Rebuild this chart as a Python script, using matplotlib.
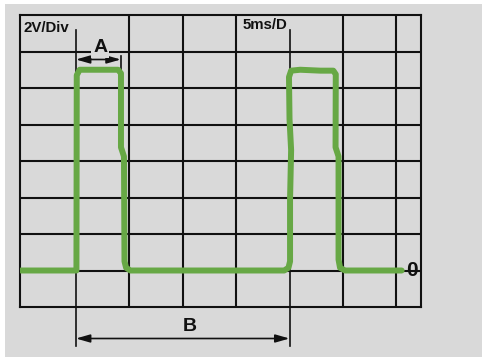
import matplotlib.pyplot as plt
from matplotlib.patches import Rectangle

# scope settings
volts_per_div = 2
ms_per_div = 5

# trace (time in ms, voltage in V)
trace_t = [-0.15, 5.05, 5.08, 5.35, 8.95, 9.22, 9.22, 9.5, 9.55, 9.7, 10.1,
           24.5, 24.9, 25.05, 25.05, 25.15, 25.0, 24.95, 25.15, 26.0, 27.9,
           29.1, 29.33, 29.31, 29.59, 29.59, 29.73, 30.2, 35.5]
trace_v = [0.0, 0.0, 10.7, 11.0, 11.0, 10.8, 6.75, 6.25, 0.5, 0.15, 0.0,
           0.0, 0.15, 0.5, 3.9, 6.6, 8.3, 10.6, 10.95, 11.0, 10.95,
           10.95, 10.75, 6.75, 6.25, 0.6, 0.15, 0.0, 0.0]

# grid lines (in divisions) and measurement markers (ms)
grid_x_divs = [2, 3, 4, 6, 7]
grid_y_volts = [0, 2, 4, 6, 8, 10, 12]
marker_a = (5.0, 9.2)
marker_b = (5.0, 25.0)

gray = '#d9d9d9'
green = '#67a845'
ink = '#111111'

fig = plt.figure(figsize=(4.82, 3.57), dpi=100)
fig.patch.set_facecolor('white')
fig.add_artist(Rectangle((5 / 482, 0), 1, 1 - 4 / 357, transform=fig.transFigure,
                         facecolor=gray, edgecolor='none', zorder=-10))

ax = fig.add_axes([20 / 482, 50 / 357, 401 / 482, 292 / 357])
ax.set_facecolor(gray)
ax.set_xlim(-0.234, 37.31)
ax.set_ylim(-2, 14)
ax.set_xticks([])
ax.set_yticks([])
for s in ax.spines.values():
    s.set_linewidth(1.5)
    s.set_color(ink)

for d in grid_x_divs:
    ax.axvline(d * ms_per_div, color=ink, lw=1.5, zorder=1)
for v in grid_y_volts:
    ax.axhline(v, color=ink, lw=1.5, zorder=1)

# marker lines extending below the screen
for x in marker_b:
    ax.plot([x, x], [13.2, -4.16], color=ink, lw=1.2, clip_on=False, zorder=2)
ax.plot([marker_a[1], marker_a[1]], [11.75, 11.0], color=ink, lw=1.2, zorder=2)

ax.plot(trace_t, trace_v, color=green, lw=4.3, solid_joinstyle='round',
        solid_capstyle='round', zorder=5)

arrow = dict(arrowstyle='<|-|>,head_length=0.7,head_width=0.2', color=ink,
             lw=1.2, shrinkA=0, shrinkB=0, mutation_scale=12)
ya = (271 - 60) / 36.5 * volts_per_div
ax.annotate('', xy=(marker_a[0], ya), xytext=(marker_a[1], ya), arrowprops=arrow,
            zorder=3)
yb = (271 - 339) / 36.5 * volts_per_div
ax.annotate('', xy=(marker_b[0], yb), xytext=(marker_b[1], yb), arrowprops=arrow,
            annotation_clip=False, zorder=3)

font = dict(family=['Liberation Sans', 'DejaVu Sans'], fontweight='bold', color=ink)
ax.text(7.27, (271 - 48) / 36.5 * volts_per_div, 'A', fontsize=14, ha='center',
        va='center', zorder=4,
        bbox=dict(facecolor=gray, edgecolor='none', pad=1.5), **font)
ax.text(15.65, (271 - 327) / 36.5 * volts_per_div, 'B', fontsize=14,
        ha='center', va='center', clip_on=False, **font)
ax.text(36.5, 0, '0', fontsize=15, ha='center', va='center', **font)
ax.text(0.07, (271 - 28) / 36.5 * volts_per_div, '2V/Div', fontsize=10.8,
        ha='left', va='center', zorder=4, **font)
ax.text(20.6, (271 - 25.5) / 36.5 * volts_per_div, '5ms/D', fontsize=10.8,
        ha='left', va='center', zorder=4, **font)

fig.savefig('out.png', dpi=100, facecolor=fig.get_facecolor())
